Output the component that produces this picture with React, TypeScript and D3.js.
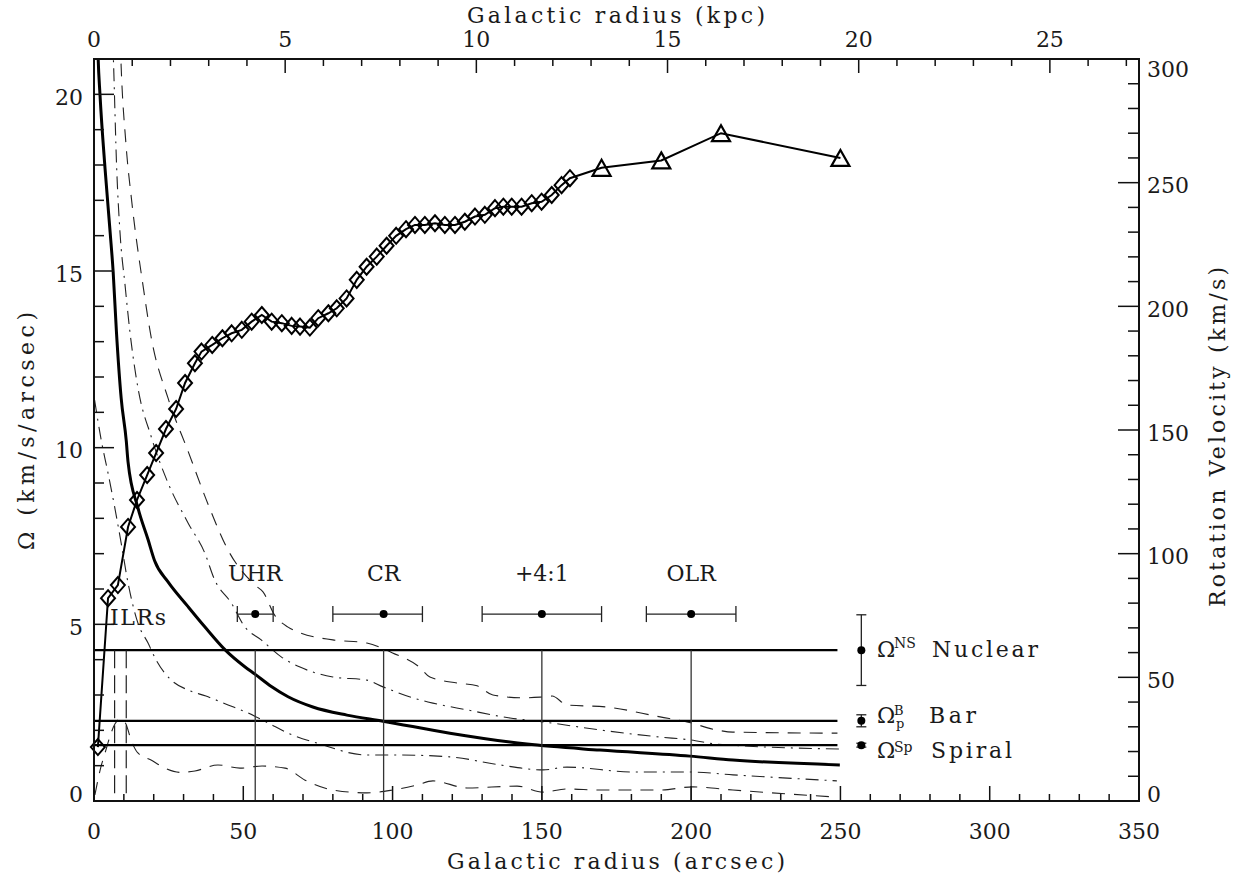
import React from 'react';
import * as d3 from 'd3';

// ---------- axes ----------
const ARCSEC_PER_KPC = 12.806;
const X_MAX = 350;
const OMEGA_MAX = 21;
const V_MAX = 300;

const bottomTickLabels = [0, 50, 100, 150, 200, 250, 300, 350];
const topTickLabels = [0, 5, 10, 15, 20, 25];
const leftTickLabels = [0, 5, 10, 15, 20];
const rightTickLabels = [0, 50, 100, 150, 200, 250, 300];

// ---------- rotation curve (km/s) ----------
const rcRadius = [1.3, 4.7, 8.0, 11.4, 14.4, 17.8, 20.8, 24.1, 27.5, 30.5, 33.8, 36.0, 39.6, 43.0, 46.1, 49.5, 52.8, 56.2, 59.5, 62.9, 66.2, 69.0, 72.3, 75.1, 78.5, 81.3, 84.6, 88.0, 91.3, 94.7, 98.0, 101.2, 104.5, 107.5, 110.8, 114.2, 117.5, 120.9, 124.2, 127.6, 130.9, 134.3, 137.1, 139.9, 143.2, 146.6, 149.9, 153.3, 156.6, 159.4];
const rcVelocity = [21.8, 82, 87.3, 110.8, 121.7, 131.8, 140.7, 150.4, 158.5, 169, 177, 181.7, 184.4, 187.1, 189.1, 190.5, 193.8, 196.5, 193.8, 193.2, 192.1, 191.8, 191.4, 195.2, 197.2, 199.2, 203.2, 210.7, 216, 220.1, 224.5, 228.5, 231.2, 232.9, 232.9, 233.6, 232.9, 232.9, 234.2, 236.3, 237, 239.7, 240.3, 240.3, 240.3, 241.7, 242.3, 245, 249, 251.8];
const hiRadius = [170, 190, 210, 250];
const hiVelocity = [256, 259, 270, 260];

// ---------- angular frequency curves (km/s/arcsec) ----------
const omegaCurve: [number, number][] = [[1.2, 21.6], [1.4, 21], [2.0, 20], [3.7, 17.9], [5.4, 16.1], [6.4, 15.0], [7.5, 13.3], [9.1, 11.4], [10.8, 10.2], [11.4, 9.6], [14.7, 8.3], [18.1, 7.4], [20.3, 6.8], [24.8, 6.2], [31.5, 5.5], [37.1, 4.93], [44, 4.27], [50.5, 3.8], [53.9, 3.59], [59.4, 3.24], [65, 2.95], [73.3, 2.66], [84.7, 2.43], [96.8, 2.26], [119.2, 1.92], [145, 1.61], [169.5, 1.44], [199.6, 1.27], [214, 1.16], [249.8, 1.02]];
const omegaPlusHalfKappa: [number, number][] = [[8.8, 21.5], [9.0, 21], [10.7, 18.6], [12.6, 17.0], [16.4, 14.6], [19.2, 13.1], [24.8, 11.4], [31.5, 9.9], [38.2, 8.4], [44.9, 7.1], [54.5, 6.07], [56.6, 5.92], [60.5, 5.26], [65, 4.92], [69, 4.76], [80, 4.56], [91.4, 4.47], [100, 4.19], [109, 3.79], [112.5, 3.51], [121.6, 3.34], [128.3, 3.26], [133.6, 3.0], [143.7, 2.92], [149.4, 2.94], [153.4, 2.97], [158.4, 2.72], [171.8, 2.66], [189.6, 2.38], [198.6, 2.24], [208.6, 2.01], [214, 1.95], [249, 1.92]];
const omegaPlusQuarterKappa: [number, number][] = [[6.3, 21.5], [6.5, 21], [7.6, 17.9], [8.7, 16.1], [10.4, 14.6], [12, 13.3], [14.7, 11.7], [19.2, 10.3], [24.8, 9.0], [31.5, 7.87], [37.1, 7.02], [40.4, 6.26], [46, 5.6], [50.5, 4.93], [56, 4.56], [62.7, 4.08], [69, 3.79], [80, 3.51], [91.4, 3.42], [96.8, 3.23], [109.2, 2.86], [113.5, 2.77], [124.9, 2.58], [139.3, 2.35], [150.4, 2.24], [169.5, 2.01], [189.5, 1.81], [199.6, 1.73], [208.6, 1.61], [249.8, 1.47]];
const omegaMinusQuarterKappa: [number, number][] = [[0.2, 11.35], [2.4, 10.22], [4.7, 9.28], [6.9, 8.33], [9.1, 7.3], [11.4, 6.17], [14.7, 5.04], [18.1, 4.47], [20.8, 3.99], [25.9, 3.42], [31.5, 3.14], [37.5, 2.97], [44.9, 2.72], [51.6, 2.49], [58.3, 2.21], [65, 1.92], [74.7, 1.64], [91.4, 1.3], [102.5, 1.3], [119.2, 1.25], [136, 1.02], [150.4, 0.88], [158.4, 0.96], [180.5, 0.82], [199.6, 0.82], [214, 0.74], [248.8, 0.57]];
const omegaMinusHalfKappa: [number, number][] = [[0.3, 0.17], [2.3, 0.96], [3.7, 1.36], [5.7, 1.92], [7, 2.18], [9, 2.32], [10.7, 2.18], [12.4, 1.73], [14.7, 1.36], [19.1, 1.16], [23.8, 0.93], [29.1, 0.81], [33.8, 0.85], [41.5, 1.02], [48.9, 0.93], [56.3, 0.99], [64, 0.93], [70.7, 0.59], [80, 0.31], [91.4, 0.23], [100, 0.31], [108.2, 0.45], [113.5, 0.57], [124.9, 0.37], [141.7, 0.42], [150.4, 0.25], [158.4, 0.34], [169.5, 0.31], [189.5, 0.31], [200.6, 0.4], [214, 0.31], [248.8, 0.11]];

// ---------- pattern speeds ----------
const patternNames = ['Nuclear', 'Bar', 'Spiral'];
const patternSup = ['NS', 'B', 'Sp'];
const patternSub = ['', 'p', ''];
const patternSpeed = [4.27, 2.27, 1.58];
const patternErr = [1.0, 0.17, 0.055];
const patternLineEnd = 249;
const patternLegendR = 257;

// ---------- resonances ----------
const ilrRadius = [6.9, 10.8];
const resonanceNames = ['UHR', 'CR', '+4:1', 'OLR'];
const resonanceR = [54, 97, 150, 200];
const resonanceLo = [48, 80, 130, 185];
const resonanceHi = [60, 110, 170, 215];
const resonanceMarkLevel = 5.29;

const FONT = '"DejaVu Serif", serif';
const INK = '#1a1a1a';

export default function App() {
  const L = 94, R = 1139, T = 59, B = 801;
  const x = d3.scaleLinear().domain([0, X_MAX]).range([L, R]);
  const xk = d3.scaleLinear().domain([0, X_MAX / ARCSEC_PER_KPC]).range([L, R]);
  const yL = d3.scaleLinear().domain([0, OMEGA_MAX]).range([B, T]);
  const yR = d3.scaleLinear().domain([0, V_MAX]).range([B, T]);

  const curve = d3.line<[number, number]>().x(d => x(d[0])).y(d => yL(d[1])).curve(d3.curveMonotoneX);
  const rcPts = rcRadius.map((r, i) => [r, rcVelocity[i]] as [number, number]);
  const hiPts = hiRadius.map((r, i) => [r, hiVelocity[i]] as [number, number]);
  const vLine = d3.line<[number, number]>().x(d => x(d[0])).y(d => yR(d[1]));

  const bottomMinor = d3.range(0, X_MAX + 0.1, 10);
  const topMinor = d3.range(0, X_MAX / ARCSEC_PER_KPC, 1);
  const leftMinor = d3.range(0, OMEGA_MAX + 0.1, 1);
  const rightMinor = d3.range(0, V_MAX + 0.1, 10);

  const clampC = (c: number) => Math.max(T + 9.5, Math.min(B - 7.5, c));

  const thin = { fill: 'none', stroke: '#222', strokeWidth: 1.1 };

  return (
    <svg width={1252} height={884} style={{ position: 'absolute', left: 0, top: 0, background: '#fff' }}>
      <defs>
        <clipPath id="plotclip"><rect x={L} y={T} width={R - L} height={B - T} /></clipPath>
      </defs>
      <rect x={0} y={0} width={1252} height={884} fill="#fff" />

      <g clipPath="url(#plotclip)">
        <path d={curve(omegaPlusHalfKappa) || ''} {...thin} strokeDasharray="13 9" />
        <path d={curve(omegaPlusQuarterKappa) || ''} {...thin} strokeDasharray="13 6 2 6" />
        <path d={curve(omegaMinusQuarterKappa) || ''} {...thin} strokeDasharray="13 6 2 6" />
        <path d={curve(omegaMinusHalfKappa) || ''} {...thin} strokeDasharray="13 9" />
        <path d={curve(omegaCurve) || ''} fill="none" stroke="#000" strokeWidth={3} />
      </g>

      {/* pattern speed lines */}
      {patternSpeed.map((p, i) => (
        <line key={'pl' + i} x1={x(0)} x2={x(patternLineEnd)} y1={yL(p)} y2={yL(p)} stroke="#000" strokeWidth={2.2} />
      ))}
      {/* ILR dashed verticals */}
      {ilrRadius.map((r, i) => (
        <line key={'ilr' + i} x1={x(r)} x2={x(r)} y1={yL(patternSpeed[0])} y2={yL(0)} stroke="#222" strokeWidth={1.2} strokeDasharray="18 7" />
      ))}
      {/* resonance verticals */}
      {resonanceR.map((r, i) => (
        <line key={'rv' + i} x1={x(r)} x2={x(r)} y1={yL(patternSpeed[0])} y2={yL(0)} stroke="#333" strokeWidth={1.3} />
      ))}
      {/* resonance markers */}
      {resonanceR.map((r, i) => {
        const yy = yL(resonanceMarkLevel);
        return (
          <g key={'rm' + i} stroke="#222" strokeWidth={1.3}>
            <line x1={x(resonanceLo[i])} x2={x(resonanceHi[i])} y1={yy} y2={yy} />
            <line x1={x(resonanceLo[i])} x2={x(resonanceLo[i])} y1={yy - 8} y2={yy + 8} />
            <line x1={x(resonanceHi[i])} x2={x(resonanceHi[i])} y1={yy - 8} y2={yy + 8} />
            <circle cx={x(r)} cy={yy} r={4} fill="#000" stroke="none" />
            <text x={x(r)} y={581} textAnchor="middle" fontFamily={FONT} fontSize={22} fill={INK} stroke="none">{resonanceNames[i]}</text>
          </g>
        );
      })}
      <text x={110} y={625} fontFamily={FONT} fontSize={22} fill={INK} textLength={56} lengthAdjust="spacing">ILRs</text>

      {/* rotation curve */}
      <path d={vLine([...rcPts, ...hiPts]) || ''} fill="none" stroke="#000" strokeWidth={2} />
      {rcPts.map((d, i) => (
        <path key={'dm' + i} transform={`translate(${x(d[0])},${yR(d[1])})`} d="M0,-8L7,0L0,8L-7,0Z" fill="none" stroke="#000" strokeWidth={2} />
      ))}
      {hiPts.map((d, i) => (
        <path key={'tr' + i} transform={`translate(${x(d[0])},${yR(d[1])})`} d="M0,-8L9,8L-9,8Z" fill="none" stroke="#000" strokeWidth={2.2} strokeLinejoin="miter" />
      ))}

      {/* pattern speed legend */}
      {patternSpeed.map((p, i) => {
        const cx = x(patternLegendR);
        const yc = yL(p);
        const y1 = yL(p + patternErr[i]);
        const y2 = yL(p - patternErr[i]);
        const base = [657, 723, 758][i];
        const supBase = [648, 715, 752][i];
        const wordX = [932, 929, 931][i];
        const wordLen = [106, 47, 81][i];
        return (
          <g key={'lg' + i}>
            <g stroke="#222" strokeWidth={1.3}>
              <line x1={cx} x2={cx} y1={y1} y2={y2} />
              <line x1={cx - 5} x2={cx + 5} y1={y1} y2={y1} />
              <line x1={cx - 5} x2={cx + 5} y1={y2} y2={y2} />
            </g>
            <circle cx={cx} cy={yc} r={4} fill="#000" />
            <text x={877} y={base} fontFamily={FONT} fontSize={22} fill={INK}>Ω</text>
            <text x={894} y={supBase} fontFamily={FONT} fontSize={i === 1 ? 13 : 14} fill={INK}>
              {patternSup[i]}
              {patternSub[i] && <tspan x={896} y={base + 5}>{patternSub[i]}</tspan>}
            </text>
            <text x={wordX} y={base} fontFamily={FONT} fontSize={22} fill={INK} textLength={wordLen} lengthAdjust="spacing">{patternNames[i]}</text>
          </g>
        );
      })}

      {/* frame */}
      <rect x={L} y={T} width={R - L} height={B - T} fill="none" stroke="#111" strokeWidth={2} />

      {/* ticks */}
      <g stroke="#111" strokeWidth={1.5}>
        {bottomMinor.map(v => {
          const major = v % 50 === 0;
          return <line key={'bt' + v} x1={x(v)} x2={x(v)} y1={B} y2={B - (major ? 15 : 7)} />;
        })}
        {topMinor.map(v => {
          const major = v % 5 === 0;
          return <line key={'tt' + v} x1={xk(v)} x2={xk(v)} y1={T} y2={T + (major ? 14 : 7)} />;
        })}
        {leftMinor.map(v => {
          const major = v % 5 === 0;
          return <line key={'lt' + v} x1={L} x2={L + (major ? 20 : 10)} y1={yL(v)} y2={yL(v)} />;
        })}
        {rightMinor.map(v => {
          const major = v % 50 === 0;
          return <line key={'rt' + v} x1={R} x2={R - (major ? 21 : 11)} y1={yR(v)} y2={yR(v)} />;
        })}
      </g>

      {/* tick labels */}
      <g fontFamily={FONT} fontSize={22} fill={INK}>
        {bottomTickLabels.map(v => (
          <text key={'bl' + v} x={x(v)} y={839} textAnchor="middle">{v}</text>
        ))}
        {topTickLabels.map(v => (
          <text key={'tl' + v} x={xk(v)} y={47} textAnchor="middle">{v}</text>
        ))}
        {leftTickLabels.map(v => (
          <text key={'ll' + v} x={83} y={clampC(yL(v) + 2.5) + 8} textAnchor="end">{v}</text>
        ))}
        {rightTickLabels.map(v => (
          <text key={'rl' + v} x={1147} y={clampC(yR(v) + 2.5) + 8} textAnchor="start">{v}</text>
        ))}
      </g>

      {/* axis titles */}
      <g fontFamily={FONT} fontSize={22} fill={INK}>
        <text x={616} y={869} textAnchor="middle" textLength={338} lengthAdjust="spacing">Galactic radius (arcsec)</text>
        <text x={616} y={23} textAnchor="middle" textLength={298} lengthAdjust="spacing">Galactic radius (kpc)</text>
        <text transform="translate(34,431) rotate(-90)" textAnchor="middle" textLength={238} lengthAdjust="spacing">Ω (km/s/arcsec)</text>
        <text transform="translate(1225,437) rotate(-90)" textAnchor="middle" textLength={340} lengthAdjust="spacing">Rotation Velocity (km/s)</text>
      </g>
    </svg>
  );
}
